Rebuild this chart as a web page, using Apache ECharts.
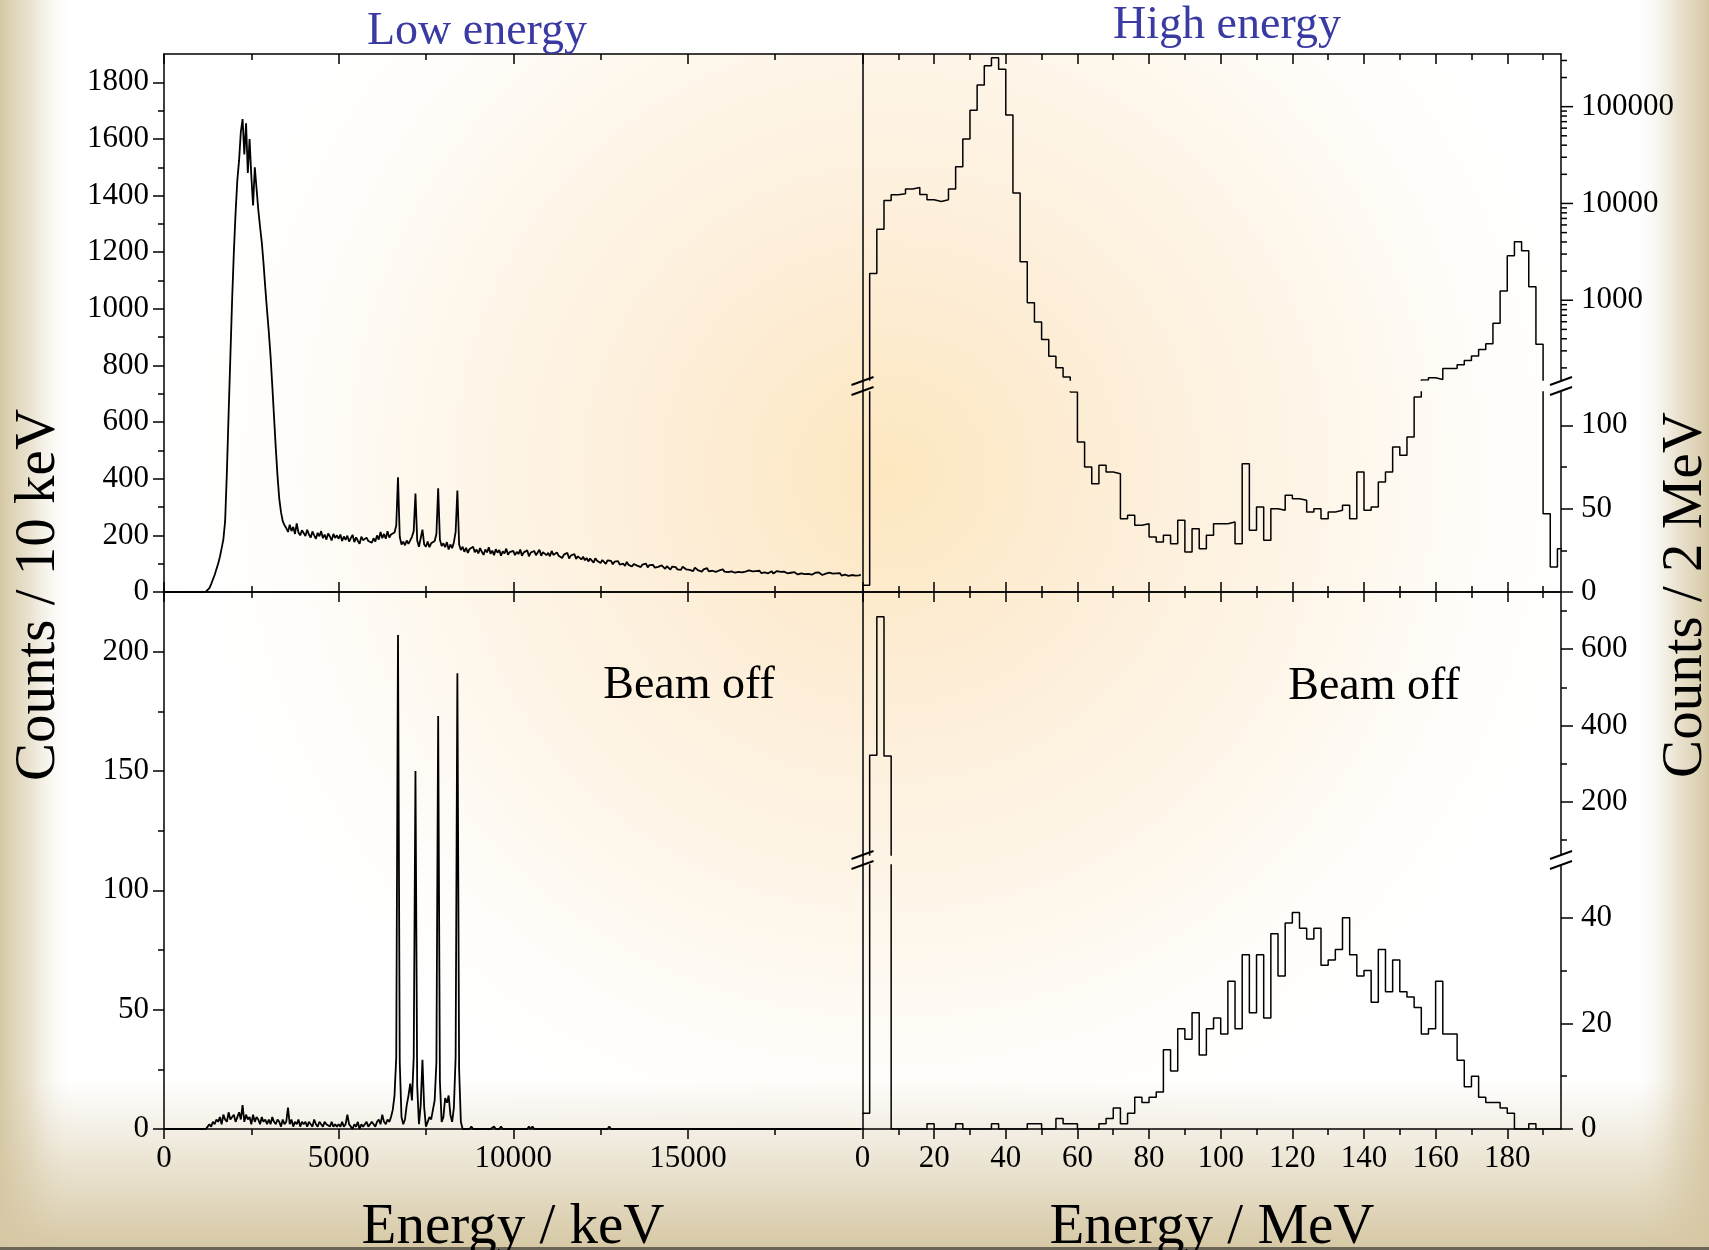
<!DOCTYPE html>
<html>
<head>
<meta charset="utf-8">
<script src="https://cdn.jsdelivr.net/npm/echarts@6/dist/echarts.min.js"></script>
<style>
html, body { margin: 0; padding: 0; background: #fff; }
#chart { width: 1709px; height: 1250px; }
</style>
</head>
<body>
<div id="chart"></div>
<script>
// ---------------- data ----------------
// low energy spectra, counts per bin, bins of lowBinWidth keV starting at 0
var lowBinWidth = 50;
var lowBeamOn = [
  0,0,0,0,0,0,0,0,0,0,0,0,0,0,0,0,0,0,0,0,
  0,0,0,0,1,4,14,28,44,60,80,100,124,154,186,250,420,630,830,1030,
  1200,1340,1455,1525,1625,1670,1545,1655,1480,1600,1470,1365,1500,1425,1350,1290,1235,1160,1075,995,
  920,835,730,620,510,410,330,282,250,236,226,212,238,215,230,205,242,210,200,218,
  212,198,220,203,192,214,200,188,209,197,215,190,203,185,207,196,182,205,191,200,
  188,203,180,196,184,199,178,190,202,176,193,181,170,195,183,176,192,180,187,174,
  190,178,200,185,212,190,205,188,215,192,203,196,210,235,405,195,168,178,165,182,
  170,176,195,215,348,182,160,190,220,168,160,178,158,172,165,180,205,366,185,162,
  172,158,176,150,168,155,175,212,358,168,148,160,142,156,138,152,145,160,140,150,
  136,155,142,131,150,140,158,135,146,130,151,139,148,128,144,136,153,132,141,137,
  145,130,142,134,150,128,140,136,147,126,139,133,145,130,137,149,128,141,135,130,
  138,126,145,131,124,140,128,135,120,132,126,138,118,129,123,134,117,126,121,115,
  125,112,120,108,118,114,104,119,110,115,102,113,108,99,112,105,110,98,107,103,
  109,97,104,100,92,106,96,101,90,99,103,93,98,88,97,94,100,87,95,91,
  96,86,92,89,83,94,87,82,91,85,79,90,84,88,80,86,78,89,83,80,
  85,78,82,74,86,79,76,83,72,80,77,84,73,79,75,82,71,78,76,74,
  80,72,77,70,76,73,79,68,74,71,77,69,75,72,66,76,70,73,68,74,
  70,75,67,72,69,76,66,71,73,65,70,74,67,71,64,72,69,66,73,68,
  65,70,67,62,69,66,71,63,67,64,70,61,66,68,62,69,64,60,67,65,
  63,68,61,65,59,66,62,67,58,64,61,65,57,63,60,66,58,62,59,61
];
var lowBeamOff = [
  0,0,0,0,0,0,0,0,0,0,0,0,0,0,0,0,0,0,0,0,
  0,0,0,0,0,1,2,1,3,2,4,3,5,2,6,4,3,7,4,5,
  6,3,5,7,4,10,3,6,4,5,2,6,3,5,4,2,5,3,4,2,
  4,2,5,3,2,4,3,1,4,2,3,9,2,4,1,3,2,4,1,3,
  2,3,1,3,2,1,4,2,1,3,2,1,3,2,2,1,3,1,2,1,
  2,1,3,1,2,6,2,1,0,2,1,3,0,2,1,2,3,1,2,3,
  2,1,3,4,2,6,3,2,4,3,5,8,14,30,207,28,5,2,4,10,
  14,19,12,30,150,18,2,10,29,9,1,3,5,4,8,12,28,173,20,3,
  5,13,11,14,6,3,9,30,191,25,3,0,0,0,0,0,1,0,0,0,
  0,0,0,0,0,0,0,0,0,1,0,0,0,1,0,0,0,0,0,0,
  0,0,0,0,0,0,0,0,0,1,0,1,0,0,0,0,0,0,0,0,
  0,0,0,0,0,0,0,0,0,0,0,0,0,0,0,0,0,0,0,0,
  0,0,0,0,0,0,0,0,0,0,0,0,0,0,0,1,0,0,0,0,
  0,0,0,0,0,0,0,0,0,0,0,0,0,0,0,0,0,0,0,0,
  0,0,0,0,0,0,0,0,0,0,0,0,0,0,0,0,0,0,0,0,
  0,0,0,0,0,0,0,0,0,0,0,0,0,0,0,0,0,0,0,0,
  0,0,0,0,0,0,0,0,0,0,0,0,0,0,0,0,0,0,0,0,
  0,0,0,0,0,0,0,0,0,0,0,0,0,0,0,0,0,0,0,0,
  0,0,0,0,0,0,0,0,0,0,0,0,0,0,0,0,0,0,0,0,
  0,0,0,0,0,0,0,0,0,0,0,0,0,0,0,0,0,0,0,0
];

// high energy histograms, counts per 2 MeV bin starting at 0
var highBinWidth = 2;
var highBeamOn = [
  4, 1890, 5400, 10700, 12300, 12600, 14100, 14600, 12400, 10900,
  10500, 10900, 14100, 24000, 46400, 92000, 167000, 265000, 321000, 244000,
  81900, 12800, 2500, 944, 597, 394, 264, 201, 161, 120,
  90, 75, 65, 76, 72, 71, 44, 46, 40, 41,
  33, 30, 34, 29, 43, 24, 38, 26, 34, 41,
  41, 42, 29, 77, 37, 51, 31, 50, 49, 58,
  56, 55, 48, 50, 44, 48, 49, 52, 44, 72,
  49, 51, 66, 72, 87, 82, 93, 117, 150, 158,
  152, 197, 197, 216, 238, 266, 309, 356, 577, 1245,
  2890, 4030, 3240, 1375, 351, 47, 15, 26
];
var highBeamOff = [
  3, 322, 685, 320, 0, 0, 0, 0, 0, 1,
  0, 0, 0, 1, 0, 0, 0, 0, 1, 0,
  0, 0, 0, 1, 1, 0, 0, 2, 1, 1,
  0, 0, 0, 1, 2, 4, 1, 3, 6, 5,
  6, 7, 15, 11, 19, 17, 22, 14, 19, 21,
  18, 28, 19, 33, 22, 33, 21, 37, 29, 39,
  41, 38, 36, 38, 31, 32, 34, 40, 33, 29,
  30, 24, 34, 26, 32, 26, 25, 23, 18, 19,
  28, 18, 18, 13, 8, 10, 6, 5, 5, 4,
  3, 0, 0, 1, 0, 0, 0, 0
];

// tick values
var lowOnTicks = [0, 200, 400, 600, 800, 1000, 1200, 1400, 1600, 1800];
var lowOnMinor = [100, 300, 500, 700, 900, 1100, 1300, 1500, 1700];
var lowOffTicks = [0, 50, 100, 150, 200];
var lowOffMinor = [25, 75, 125, 175];
var highXTicks = [0, 20, 40, 60, 80, 100, 120, 140, 160, 180];
var highXMinor = [10, 30, 50, 70, 90, 110, 130, 150, 170, 190];
var logMajorTicks = [1000, 10000, 100000];
var logMinorTicks = [200, 300, 400, 500, 600, 700, 800, 900,
  2000, 3000, 4000, 5000, 6000, 7000, 8000, 9000,
  20000, 30000, 40000, 50000, 60000, 70000, 80000, 90000,
  200000, 300000];
var onLinTicks = [0, 50, 100];
var onLinMinor = [25, 75];
var offUpTicks = [200, 400, 600];
var offUpMinor = [100, 300, 500, 700];
var offLowTicks = [0, 20, 40];
var offLowMinor = [10, 30];

// ---------------- layout ----------------
var INK = '#000';
var FONT = '"Liberation Serif", "Times New Roman", Times, serif';
var LINE_W = 1.5;
var L = 164, MID = 862.5, R = 1561, T = 54, HM = 592, B = 1129;
var BRK1 = [380, 392];   // gap between log and linear part, beam on
var BRK2 = [855, 865];   // gap in beam off panel
var LOW_MAX = 20000, HIGH_MAX = 195;

function plainNumber(v) { return String(Math.round(v)); }

function axis(o) {
  var a = {
    type: o.type || 'value',
    gridIndex: o.grid,
    position: o.pos,
    min: o.min,
    max: o.max,
    silent: true,
    splitLine: {show: false},
    axisPointer: {show: false},
    axisLine: {show: !!o.line, onZero: false, lineStyle: {color: INK, width: LINE_W}},
    axisTick: {show: !!o.ticks, inside: !!o.inside, length: o.len || 10,
      lineStyle: {color: INK, width: LINE_W}},
    axisLabel: {show: !!o.labels, color: INK, fontFamily: FONT, fontSize: 31,
      margin: o.margin || 14, formatter: o.formatter || plainNumber}
  };
  if (o.ticks && o.ticks !== 'auto') a.axisTick.customValues = o.ticks;
  if (o.labels && o.labels !== 'auto') a.axisLabel.customValues = o.labels;
  if (o.interval) a.interval = o.interval;
  if (o.minor) a.minorTick = {show: true, splitNumber: o.minor, length: 6,
    lineStyle: {color: INK, width: LINE_W}};
  if (o.logBase) a.logBase = o.logBase;
  return a;
}

function spectrumPoints(counts, width) {
  return counts.map(function (c, i) { return [i * width, c]; });
}
function histPoints(counts, width) {
  var pts = counts.map(function (c, i) { return [i * width, c]; });
  pts.push([counts.length * width, counts[counts.length - 1]]);
  return pts;
}
function lineSeries(x, y, data, step, width) {
  return {
    type: 'line', xAxisIndex: x, yAxisIndex: y, data: data,
    step: step || false, showSymbol: false, symbol: 'none', silent: true,
    clip: true, z: 3,
    lineStyle: {color: INK, width: width || 1.5}
  };
}

var lowX = {min: 0, max: LOW_MAX, interval: 5000, ticks: 'auto', minor: 2, line: true};
function lowXAxis(grid, pos, extra) {
  var o = Object.assign({}, lowX, {grid: grid, pos: pos}, extra || {});
  return axis(o);
}
function highXAxis(grid, pos, minor, extra) {
  var o = Object.assign({grid: grid, pos: pos, min: 0, max: HIGH_MAX,
    ticks: minor ? highXMinor : highXTicks, len: minor ? 6 : 10, line: !minor}, extra || {});
  return axis(o);
}

var xAxes = [
  lowXAxis(0, 'bottom', {inside: true}),                       // 0
  lowXAxis(0, 'top', {inside: true}),                          // 1
  lowXAxis(1, 'top', {inside: true}),                          // 2
  lowXAxis(1, 'bottom', {inside: false, labels: 'auto', margin: 14,
    formatter: function (v) { return v >= LOW_MAX ? '' : String(v); }}),   // 3
  highXAxis(2, 'top', false, {inside: true}),                  // 4
  highXAxis(2, 'top', true, {inside: true}),                   // 5
  highXAxis(3, 'bottom', false, {inside: true}),               // 6
  highXAxis(3, 'bottom', true, {inside: true}),                // 7
  highXAxis(4, 'top', false, {inside: true}),                  // 8
  highXAxis(4, 'top', true, {inside: true}),                   // 9
  highXAxis(5, 'bottom', false, {inside: false, labels: highXTicks, margin: 14}), // 10
  highXAxis(5, 'bottom', true, {inside: false})                // 11
];

var yAxes = [
  axis({grid: 0, pos: 'left', min: 0, max: 1900, ticks: lowOnTicks, len: 11, labels: lowOnTicks, line: true, margin: 15}), // 0
  axis({grid: 0, pos: 'left', min: 0, max: 1900, ticks: lowOnMinor, len: 6}),     // 1
  axis({grid: 0, pos: 'right', min: 0, max: 1900, line: true}),                     // 2
  axis({grid: 1, pos: 'left', min: 0, max: 225, ticks: lowOffTicks, len: 11, labels: lowOffTicks, line: true, margin: 15}), // 3
  axis({grid: 1, pos: 'left', min: 0, max: 225, ticks: lowOffMinor, len: 6}),      // 4
  axis({grid: 1, pos: 'right', min: 0, max: 225, line: true}),                      // 5
  axis({grid: 2, pos: 'right', type: 'log', logBase: 10, min: 150, max: 350000, line: true,
    labels: 'auto', margin: 20,
    formatter: function (v) { var r = Math.round(v); return logMajorTicks.indexOf(r) >= 0 ? String(r) : ''; }}), // 6
  axis({grid: 3, pos: 'right', min: 0, max: 120, ticks: onLinTicks, len: 12, labels: onLinTicks, line: true, margin: 20}), // 7
  axis({grid: 3, pos: 'right', min: 0, max: 120, ticks: onLinMinor, len: 6}),      // 8
  axis({grid: 4, pos: 'right', min: 60, max: 750, ticks: offUpTicks, len: 12, labels: offUpTicks, line: true, margin: 20}), // 9
  axis({grid: 4, pos: 'right', min: 60, max: 750, ticks: offUpMinor, len: 6}),     // 10
  axis({grid: 5, pos: 'right', min: 0, max: 50, ticks: offLowTicks, len: 12, labels: offLowTicks, line: true, margin: 20}), // 11
  axis({grid: 5, pos: 'right', min: 0, max: 50, ticks: offLowMinor, len: 6})       // 12
];

function grid(left, top, right, bottom) {
  return {left: left, top: top, width: right - left, height: bottom - top,
    containLabel: false, outerBoundsMode: 'none', show: false};
}

// log-axis tick marks (major + minor) drawn through the log scale
var logTickData = logMajorTicks.map(function (v) { return [HIGH_MAX, v, 12]; })
  .concat(logMinorTicks.map(function (v) { return [HIGH_MAX, v, 6]; }));

var series = [
  lineSeries(0, 0, spectrumPoints(lowBeamOn, lowBinWidth), false, 1.8),
  lineSeries(3, 3, spectrumPoints(lowBeamOff, lowBinWidth), false, 1.8),
  lineSeries(4, 6, histPoints(highBeamOn, highBinWidth), 'end'),
  lineSeries(6, 7, histPoints(highBeamOn, highBinWidth), 'end'),
  lineSeries(8, 9, histPoints(highBeamOff, highBinWidth), 'end'),
  lineSeries(10, 11, histPoints(highBeamOff, highBinWidth), 'end'),
  {
    type: 'custom', xAxisIndex: 4, yAxisIndex: 6, silent: true, clip: false, z: 4,
    data: logTickData,
    renderItem: function (params, api) {
      var p = api.coord([api.value(0), api.value(1)]);
      var len = api.value(2);
      return {type: 'line', shape: {x1: p[0], y1: p[1], x2: p[0] + len, y2: p[1]},
        style: {stroke: INK, lineWidth: LINE_W}};
    }
  }
];

function text(str, x, y, size, color, rot) {
  return {type: 'text', x: x, y: y, rotation: rot || 0, z: 50, silent: true,
    style: {text: str, font: size + 'px ' + FONT, fill: color || INK,
      align: 'center', verticalAlign: 'middle'}};
}
function breakMarks(cx, cy) {
  return [
    {type: 'line', z: 50, silent: true, shape: {x1: cx - 11, y1: cy - 1, x2: cx + 11, y2: cy - 9},
      style: {stroke: INK, lineWidth: 2}},
    {type: 'line', z: 50, silent: true, shape: {x1: cx - 11, y1: cy + 9, x2: cx + 11, y2: cy + 1},
      style: {stroke: INK, lineWidth: 2}}
  ];
}

var TAN = '#d6c8a4';
var background = [
  {type: 'rect', z: -100, silent: true, shape: {x: L, y: T, width: R - L, height: B - T},
    style: {fill: {type: 'radial', x: 0.52, y: 0.39, r: 0.7, colorStops: [
      {offset: 0, color: '#fde7c0'}, {offset: 0.3, color: '#fdeed8'},
      {offset: 0.65, color: '#fef8ee'}, {offset: 1, color: 'rgba(255,255,255,0)'}]}}},
  {type: 'rect', z: -90, silent: true, shape: {x: 0, y: 0, width: 75, height: 1250},
    style: {fill: {type: 'linear', x: 0, y: 0, x2: 1, y2: 0, colorStops: [
      {offset: 0, color: TAN}, {offset: 0.4, color: 'rgba(228,219,196,0.8)'},
      {offset: 1, color: 'rgba(255,255,255,0)'}]}}},
  {type: 'rect', z: -90, silent: true, shape: {x: 1630, y: 0, width: 79, height: 1250},
    style: {fill: {type: 'linear', x: 0, y: 0, x2: 1, y2: 0, colorStops: [
      {offset: 0, color: 'rgba(255,255,255,0)'}, {offset: 0.6, color: 'rgba(228,219,196,0.8)'},
      {offset: 1, color: TAN}]}}},
  {type: 'rect', z: -90, silent: true, shape: {x: 0, y: 1080, width: 1709, height: 170},
    style: {fill: {type: 'linear', x: 0, y: 0, x2: 0, y2: 1, colorStops: [
      {offset: 0, color: 'rgba(214,200,165,0)'}, {offset: 0.3, color: 'rgba(214,200,165,0.3)'},
      {offset: 1, color: TAN}]}}},
  {type: 'rect', z: -80, silent: true, shape: {x: 0, y: 1247, width: 1709, height: 3},
    style: {fill: '#6b6558'}}
];

var labels = [
  text('Low energy', 477, 32, 46, '#3a3aa3'),
  text('High energy', 1227, 26, 46, '#3a3aa3'),
  text('Beam off', 689, 686, 46),
  text('Beam off', 1374, 687, 46),
  text('Energy / keV', 513, 1228, 57),
  text('Energy / MeV', 1212, 1228, 57),
  text('Counts / 10 keV', 39, 595, 57, INK, Math.PI / 2),
  text('Counts / 2 MeV', 1686, 595, 57, INK, Math.PI / 2)
];

var breaks = []
  .concat(breakMarks(MID, (BRK1[0] + BRK1[1]) / 2))
  .concat(breakMarks(R, (BRK1[0] + BRK1[1]) / 2))
  .concat(breakMarks(MID, (BRK2[0] + BRK2[1]) / 2))
  .concat(breakMarks(R, (BRK2[0] + BRK2[1]) / 2));

var option = {
  backgroundColor: '#ffffff',
  animation: false,
  grid: [
    grid(L, T, MID, HM),
    grid(L, HM, MID, B),
    grid(MID, T, R, BRK1[0]),
    grid(MID, BRK1[1], R, HM),
    grid(MID, HM, R, BRK2[0]),
    grid(MID, BRK2[1], R, B)
  ],
  xAxis: xAxes,
  yAxis: yAxes,
  series: series,
  graphic: {elements: background.concat(labels, breaks)}
};

var chart = echarts.init(document.getElementById('chart'), null, {renderer: 'canvas'});
chart.setOption(option);
</script>
</body>
</html>
